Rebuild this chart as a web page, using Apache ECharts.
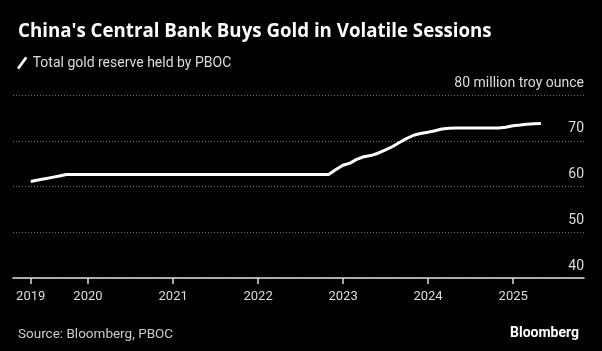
<!DOCTYPE html>
<html>
<head>
<meta charset="utf-8">
<script src="https://cdn.jsdelivr.net/npm/echarts@6/dist/echarts.min.js"></script>
<style>
  html, body { margin: 0; padding: 0; background: #000; }
  #chart { width: 602px; height: 351px; }
</style>
</head>
<body>
<div id="chart"></div>
<script>
// Month-end PBOC gold reserve, million troy ounces (flat stretches kept by their ends)
const months = [
  '2019-04-30', '2019-05-31', '2019-06-30', '2019-07-31', '2019-08-31', '2019-09-30',
  '2022-10-31',
  '2022-11-30', '2022-12-31', '2023-01-31', '2023-02-28', '2023-03-31', '2023-04-30',
  '2023-05-31', '2023-06-30', '2023-07-31', '2023-08-31', '2023-09-30', '2023-10-31',
  '2023-11-30', '2023-12-31', '2024-01-31', '2024-02-29', '2024-03-31', '2024-04-30',
  '2024-10-31',
  '2024-11-30', '2024-12-31', '2025-01-31', '2025-02-28', '2025-03-31', '2025-04-30'
];
const reserve = [
  61.1, 61.4, 61.7, 62.0, 62.3, 62.64,
  62.64,
  63.67, 64.64, 65.12, 65.92, 66.5, 66.76,
  67.27, 67.95, 68.69, 69.62, 70.46, 71.2,
  71.58, 71.87, 72.19, 72.58, 72.74, 72.8,
  72.8,
  72.96, 73.29, 73.45, 73.61, 73.7, 73.77
];
// first tick sits on the first observation, the rest on Jan 1
const tickDates = ['2019-04-30', '2020-01-01', '2021-01-01', '2022-01-01', '2023-01-01', '2024-01-01', '2025-01-01'];
const tickLabels = ['2019', '2020', '2021', '2022', '2023', '2024', '2025'];
const SERIES = 'Total gold reserve held by PBOC';
const UNIT = 'million troy ounce';

const FONT = 'Roboto';
const toMs = (s) => echarts.number.parseDate(s).getTime();
const tickMs = tickDates.map(toMs);

const chart = echarts.init(document.getElementById('chart'), null, { renderer: 'canvas' });
chart.setOption({
  backgroundColor: '#000',
  animation: false,
  textStyle: { fontFamily: FONT },
  title: [
    {
      text: "China's Central Bank Buys Gold in Volatile Sessions",
      left: 13, top: 17,
      textStyle: { color: '#fff', fontSize: 18.7, fontWeight: 'bold', fontFamily: 'Open Sans' }
    },
    {
      text: 'Source: Bloomberg, PBOC',
      left: 13, top: 323,
      textStyle: { color: '#ccc', fontSize: 13.5, fontWeight: 'normal', fontFamily: FONT }
    },
    {
      text: 'Bloomberg',
      right: 18, top: 321,
      textStyle: { color: '#fff', fontSize: 14, fontWeight: 'bold', fontFamily: FONT }
    }
  ],
  legend: {
    data: [SERIES],
    left: 12, top: 51,
    itemWidth: 11, itemHeight: 13, itemGap: 6,
    icon: 'path://M0,11 L8,0 L10,1.6 L2,12.6 Z',
    textStyle: { color: '#ddd', fontSize: 14, fontFamily: FONT },
    selectedMode: false
  },
  grid: { left: 13, right: 18, top: 95, bottom: 73 },
  xAxis: {
    type: 'value',
    min: toMs('2019-02-13'),
    max: toMs('2025-11-01'),
    splitLine: { show: false },
    axisLine: { lineStyle: { color: '#ddd', width: 1.5 } },
    axisTick: { show: true, customValues: tickMs, length: 6, lineStyle: { color: '#ddd', width: 1.5 } },
    axisLabel: {
      customValues: tickMs,
      color: '#ddd', fontSize: 13, margin: 12,
      formatter: (v) => {
        const i = tickMs.indexOf(v);
        return i >= 0 ? tickLabels[i] : '';
      }
    }
  },
  yAxis: {
    type: 'value',
    position: 'right',
    min: 40, max: 80, interval: 10,
    axisLine: { show: false },
    axisTick: { show: false },
    axisLabel: {
      inside: true, margin: 0,
      verticalAlign: 'bottom', align: 'right',
      padding: [0, 0, 5, 0],
      color: '#ddd', fontSize: 14,
      formatter: (v) => (v === 80 ? '80 ' + UNIT : String(v))
    },
    splitLine: { lineStyle: { color: '#777', type: [1, 2], width: 1 } }
  },
  series: [
    {
      name: SERIES,
      type: 'line',
      data: months.map((m, i) => [toMs(m), reserve[i]]),
      showSymbol: false,
      lineStyle: { color: '#fff', width: 3 },
      itemStyle: { color: '#fff' }
    }
  ]
});
</script>
</body>
</html>
